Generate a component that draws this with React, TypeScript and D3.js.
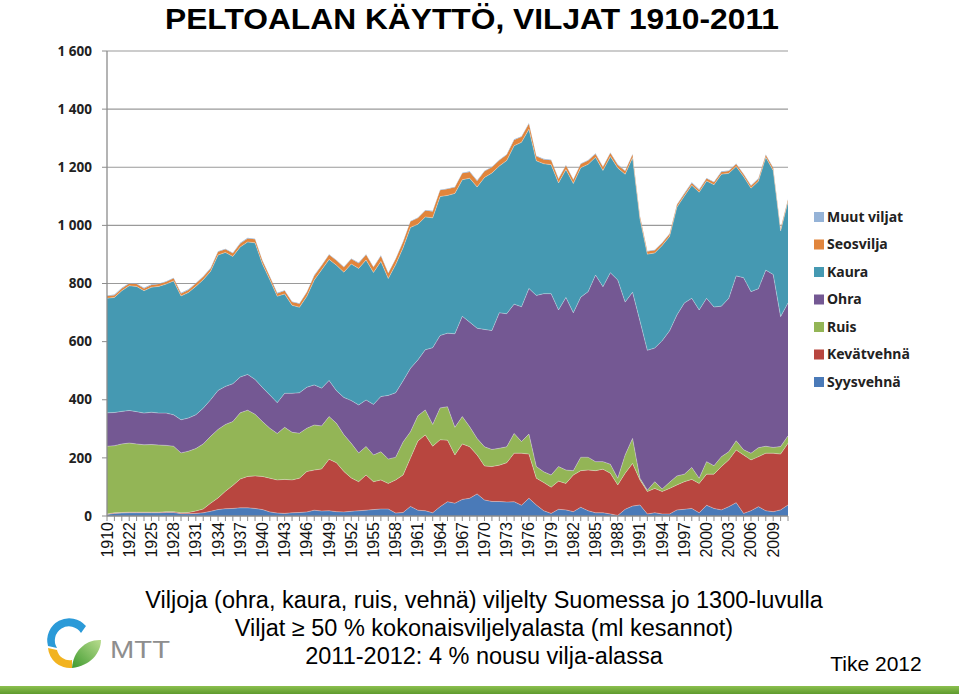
import React from 'react';
import * as d3 from 'd3';

const years = [1910, 1920, 1921, 1922, 1923, 1924, 1925, 1926, 1927, 1928, 1929, 1930, 1931, 1932, 1933, 1934, 1935, 1936, 1937, 1938, 1939, 1940, 1941, 1942, 1943, 1944, 1945, 1946, 1947, 1948, 1949, 1950, 1951, 1952, 1953, 1954, 1955, 1956, 1957, 1958, 1959, 1960, 1961, 1962, 1963, 1964, 1965, 1966, 1967, 1968, 1969, 1970, 1971, 1972, 1973, 1974, 1975, 1976, 1977, 1978, 1979, 1980, 1981, 1982, 1983, 1984, 1985, 1986, 1987, 1988, 1989, 1990, 1991, 1992, 1993, 1994, 1995, 1996, 1997, 1998, 1999, 2000, 2001, 2002, 2003, 2004, 2005, 2006, 2007, 2008, 2009, 2010, 2011];

const syysvehna = [5, 9, 10, 11, 11, 11, 11, 11, 12, 12, 8, 8, 9, 11, 16, 22, 25, 26, 28, 28, 26, 22, 14, 10, 9, 11, 12, 14, 20, 17, 18, 15, 14, 16, 18, 20, 22, 24, 24, 10, 12, 33, 20, 18, 11, 32, 49, 44, 57, 61, 76, 55, 50, 50, 48, 49, 37, 61, 38, 18, 9, 23, 21, 15, 30, 18, 11, 11, 7, 2, 23, 34, 38, 7, 11, 7, 7, 21, 23, 26, 11, 37, 26, 21, 32, 46, 9, 18, 32, 18, 15, 21, 38];
const kevatvehna = [2, 2, 2, 2, 2, 2, 2, 2, 3, 3, 3, 4, 8, 13, 28, 40, 60, 79, 99, 108, 112, 114, 116, 114, 117, 113, 118, 139, 138, 145, 177, 168, 139, 115, 100, 121, 96, 100, 88, 114, 129, 167, 238, 261, 229, 230, 212, 166, 191, 177, 134, 117, 120, 125, 135, 167, 179, 152, 92, 97, 90, 97, 91, 126, 126, 140, 145, 150, 140, 105, 124, 147, 86, 77, 84, 77, 88, 86, 95, 100, 101, 107, 118, 149, 161, 181, 201, 175, 172, 198, 201, 192, 212];
const ruis = [233, 231, 236, 238, 235, 232, 233, 231, 228, 225, 206, 211, 215, 224, 230, 236, 230, 220, 228, 228, 212, 189, 172, 160, 179, 164, 155, 149, 155, 148, 147, 136, 127, 119, 99, 98, 92, 97, 84, 78, 114, 90, 87, 86, 75, 110, 115, 95, 94, 69, 57, 66, 59, 58, 55, 68, 40, 69, 40, 37, 42, 50, 46, 15, 46, 44, 31, 26, 31, 23, 63, 86, 6, 5, 23, 9, 21, 31, 26, 41, 18, 43, 29, 34, 28, 32, 18, 23, 31, 24, 20, 26, 26];
const ohra = [115, 114, 112, 112, 111, 109, 111, 110, 111, 108, 114, 114, 116, 123, 126, 134, 131, 130, 123, 123, 120, 117, 114, 106, 117, 134, 139, 141, 138, 130, 124, 112, 128, 147, 165, 160, 174, 190, 219, 222, 210, 218, 192, 207, 264, 249, 253, 322, 345, 360, 379, 404, 409, 466, 458, 445, 464, 501, 589, 613, 624, 539, 594, 543, 551, 570, 642, 602, 659, 682, 526, 503, 541, 481, 460, 510, 521, 554, 589, 582, 579, 562, 546, 518, 528, 567, 592, 556, 547, 606, 595, 447, 457];
const kaura = [394, 396, 415, 429, 431, 421, 430, 436, 444, 461, 426, 432, 442, 442, 442, 466, 461, 438, 448, 456, 470, 425, 397, 366, 342, 303, 294, 313, 361, 407, 417, 432, 431, 470, 470, 482, 454, 465, 402, 441, 458, 485, 467, 457, 447, 478, 474, 483, 470, 495, 486, 523, 542, 505, 527, 545, 566, 548, 463, 447, 444, 437, 440, 445, 445, 438, 405, 400, 400, 385, 440, 463, 351, 331, 327, 328, 325, 371, 368, 389, 405, 404, 421, 454, 430, 377, 348, 356, 370, 388, 358, 295, 348];
const seosvilja = [8, 8, 8, 8, 8, 8, 8, 8, 8, 9, 9, 9, 10, 10, 10, 11, 11, 11, 12, 12, 12, 11, 10, 10, 11, 11, 12, 14, 15, 15, 16, 16, 17, 17, 18, 18, 18, 19, 18, 19, 20, 20, 21, 22, 22, 22, 22, 21, 22, 22, 21, 21, 20, 20, 20, 20, 19, 19, 16, 15, 15, 14, 14, 13, 13, 13, 12, 12, 12, 11, 11, 11, 9, 9, 9, 8, 8, 8, 8, 8, 8, 8, 8, 8, 8, 8, 8, 8, 8, 8, 8, 7, 7];
const muutViljat = [2, 2, 2, 2, 2, 2, 2, 2, 2, 2, 2, 2, 2, 2, 2, 2, 2, 2, 2, 2, 2, 2, 2, 2, 2, 2, 2, 2, 2, 2, 2, 2, 2, 2, 2, 2, 2, 2, 2, 2, 2, 2, 2, 2, 2, 2, 2, 2, 2, 2, 2, 2, 2, 2, 2, 2, 2, 2, 2, 2, 2, 2, 2, 2, 2, 2, 2, 2, 2, 2, 2, 2, 2, 2, 2, 2, 2, 2, 2, 2, 2, 2, 2, 2, 2, 2, 2, 2, 2, 2, 2, 2, 2];

const seriesNames = ['Syysvehnä', 'Kevätvehnä', 'Ruis', 'Ohra', 'Kaura', 'Seosvilja', 'Muut viljat'];
const seriesColors = ['#4A7AB8', '#B8463F', '#93B556', '#745893', '#4599B2', '#E1853C', '#95B3D7'];
const yTicks = [0, 200, 400, 600, 800, 1000, 1200, 1400, 1600];

const title = 'PELTOALAN KÄYTTÖ, VILJAT 1910-2011';
const notes = [
  'Viljoja (ohra, kaura, ruis, vehnä) viljelty Suomessa jo 1300-luvulla',
  'Viljat ≥ 50 % kokonaisviljelyalasta (ml kesannot)',
  '2011-2012: 4 % nousu vilja-alassa',
];
const source = 'Tike 2012';

export default function App() {
  const W = 959, H = 694;
  const left = 107, right = 788, top = 51, bottom = 516;
  const allSeries = [syysvehna, kevatvehna, ruis, ohra, kaura, seosvilja, muutViljat];
  const table = years.map((y, i) => {
    const row: any = { year: y };
    seriesNames.forEach((n, k) => (row[n] = allSeries[k][i]));
    return row;
  });
  const stack = d3.stack().keys(seriesNames)(table as any);
  const x = d3.scalePoint<number>().domain(years).range([left, right]);
  const y = d3.scaleLinear().domain([0, 1600]).range([bottom, top]);
  const area = d3.area<any>().x((d) => x(d.data.year)!).y0((d) => y(d[0])).y1((d) => y(d[1]));
  const line = d3.line<any>().x((d) => x(d.data.year)!).y((d) => y(d[1]));
  const fmt = d3.formatLocale({ decimal: ',', thousands: ' ', grouping: [3], currency: ['', '€'] }).format(',d');
  const legendY0 = 217, legendStep = 27.5;
  const sans = 'Liberation Sans, Arial, sans-serif';
  const cal = '"Noto Sans", "Open Sans", sans-serif';

  return (
    <svg width={W} height={H} style={{ position: 'absolute', left: 0, top: 0, background: '#fff' }}>
      <defs>
        <linearGradient id="bar" x1="0" y1="0" x2="0" y2="1">
          <stop offset="0" stopColor="#8CC04F" />
          <stop offset="1" stopColor="#5E9A2E" />
        </linearGradient>
        <linearGradient id="leaf" x1="0" y1="1" x2="1" y2="0">
          <stop offset="0" stopColor="#3E9A2E" />
          <stop offset="1" stopColor="#B9DC8E" />
        </linearGradient>
      </defs>
      <rect width={W} height={H} fill="#fff" />
      <text x={472} y={29} textAnchor="middle" fontFamily={sans} fontWeight="bold" fontSize={29} textLength={614} lengthAdjust="spacingAndGlyphs" fill="#000">{title}</text>

      {yTicks.filter((t) => t > 0).map((t) => (
        <line key={t} x1={left} x2={right} y1={y(t)} y2={y(t)} stroke="#9A9A9A" strokeWidth={1.2} />
      ))}

      {stack.map((s, k) => (
        <path key={seriesNames[k]} d={area(s as any) || ''} fill={seriesColors[k]} />
      ))}
      {stack.slice(0, 5).map((s, k) => (
        <path key={'l' + k} d={line(s as any) || ''} fill="none" stroke="rgba(255,255,255,0.35)" strokeWidth={0.9} />
      ))}

      <line x1={left} x2={left} y1={top} y2={bottom} stroke="#8C8C8C" strokeWidth={1.3} />
      <line x1={left} x2={right} y1={bottom} y2={bottom} stroke="#8C8C8C" strokeWidth={1.3} />
      {years.map((yr) => (
        <line key={'t' + yr} x1={x(yr)} x2={x(yr)} y1={bottom} y2={bottom + 5} stroke="#8C8C8C" strokeWidth={1} />
      ))}
      {yTicks.map((t) => (
        <g key={'yl' + t}>
          <line x1={left - 5} x2={left} y1={y(t)} y2={y(t)} stroke="#8C8C8C" strokeWidth={1} />
          <text x={92} y={y(t)} dy="0.35em" textAnchor="end" fontFamily={cal} fontWeight="bold" fontSize={13.5} fill="#222">{fmt(t)}</text>
        </g>
      ))}
      {years.map((yr, i) =>
        i % 3 === 0 ? (
          <text key={'xl' + yr} transform={`translate(${x(yr)! + 5.5},${bottom + 6}) rotate(-90)`} textAnchor="end" fontFamily={sans} fontSize={16} fill="#111">{yr}</text>
        ) : null
      )}

      {seriesNames.slice().reverse().map((n, j) => {
        const k = seriesNames.length - 1 - j;
        const ly = legendY0 + j * legendStep;
        return (
          <g key={'lg' + n}>
            <rect x={814} y={ly - 5} width={10} height={10} fill={seriesColors[k]} />
            <text x={827} y={ly} dy="0.35em" fontFamily={cal} fontWeight="bold" fontSize={14} fill="#222">{n}</text>
          </g>
        );
      })}

      {notes.map((t, i) => (
        <text key={'n' + i} x={484} y={608 + i * 28} textAnchor="middle" fontFamily={sans} fontSize={23.5} fill="#000">{t}</text>
      ))}
      <text x={876} y={671} textAnchor="middle" fontFamily={sans} fontSize={21} fill="#000">{source}</text>

      <g>
        <path d="M86,626 A22,22 0 0 0 48,646 L57,648 A13,13 0 0 1 81,633 Z" fill="#2B9AD8" />
        <path d="M48,648 A22,22 0 0 0 72,668 L72,660 A13,13 0 0 1 57,650 Z" fill="#F2B320" />
        <path d="M72,668 C90,666 101,653 101,640 C86,639 73,651 72,668 Z" fill="url(#leaf)" />
        <text x={110} y={658} fontFamily={sans} fontSize={23} fill="#8E8E8E" textLength={60} lengthAdjust="spacingAndGlyphs">MTT</text>
      </g>
      <rect x={0} y={686} width={W} height={8} fill="url(#bar)" />
    </svg>
  );
}
